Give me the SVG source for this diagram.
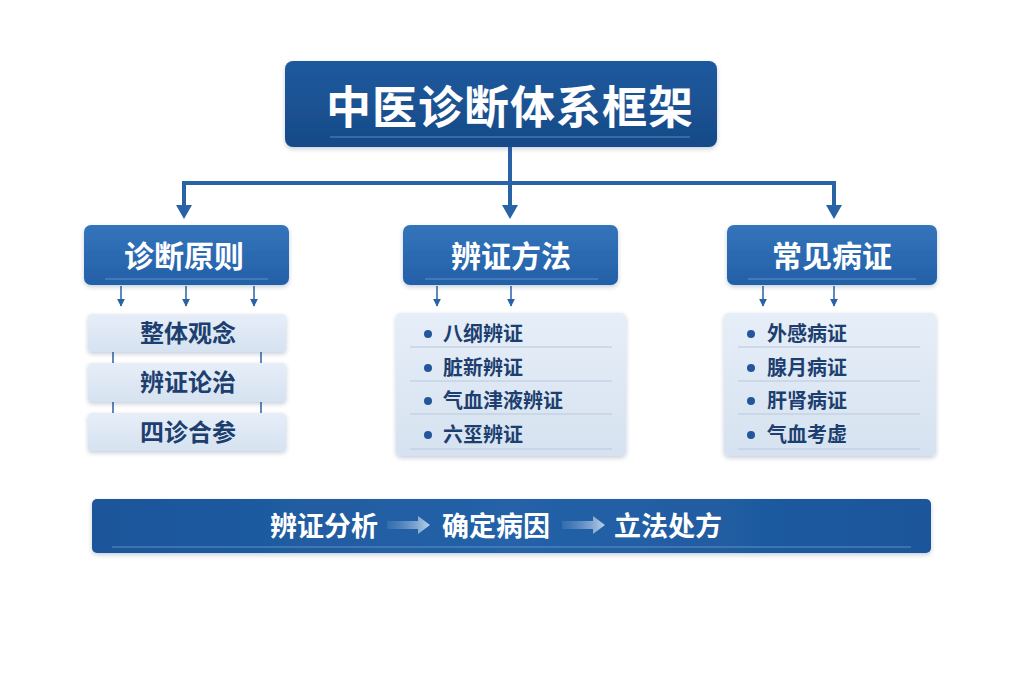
<svg xmlns="http://www.w3.org/2000/svg" width="1024" height="683" viewBox="0 0 1024 683">
<defs>
<linearGradient id="gDark" x1="0" y1="0" x2="0" y2="1"><stop offset="0" stop-color="#1f5a9e"/><stop offset="1" stop-color="#174a87"/></linearGradient>
<linearGradient id="gMid" x1="0" y1="0" x2="0" y2="1"><stop offset="0" stop-color="#3474bb"/><stop offset="1" stop-color="#2360a8"/></linearGradient>
<linearGradient id="gLight" x1="0" y1="0" x2="0" y2="1"><stop offset="0" stop-color="#e6eef8"/><stop offset="1" stop-color="#d6e2f0"/></linearGradient>
<linearGradient id="gBar" x1="0" y1="0" x2="1" y2="0"><stop offset="0" stop-color="#1b559a"/><stop offset="0.5" stop-color="#2562a8"/><stop offset="1" stop-color="#1b559a"/></linearGradient>
<linearGradient id="gArr" x1="0" y1="0" x2="1" y2="0"><stop offset="0" stop-color="#4f82bd" stop-opacity="0.4"/><stop offset="1" stop-color="#b9d0ea"/></linearGradient>
<marker id="ah" viewBox="0 0 10 10" refX="9" refY="5" markerWidth="8" markerHeight="8" markerUnits="userSpaceOnUse" orient="auto"><path d="M0,0 L10,5 L0,10 z" fill="#2a62a6"/></marker>
<filter id="sh" x="-10%" y="-10%" width="120%" height="130%"><feDropShadow dx="0" dy="2" stdDeviation="2" flood-color="#1a3a66" flood-opacity="0.25"/></filter>
</defs>
<style>
.t{font-family:"Noto Sans CJK SC","Noto Sans",sans-serif;font-weight:700}
.w{fill:#ffffff}
.d{fill:#1c3f70}
.sep{stroke:#b8c8dc;stroke-width:1}
.hl{stroke:#7fa6d6;stroke-width:1.2;opacity:0.7}
.ln{stroke:#2a62a6;stroke-width:4;fill:none}
.sl{stroke:#2a62a6;stroke-width:1.5;fill:none}
.bl{fill:#23569a}
.cl{stroke:#2a62a6;stroke-width:1.5}
</style>
<rect width="1024" height="683" fill="#ffffff"/>

<g id="connectors">
<path class="ln" d="M510,147 V183 M184,183 H834 M184,181 V206 M510,183 V206 M834,181 V206"/>
<path d="M176,205 L192,205 L184,219 z M502,205 L518,205 L510,219 z M826,205 L842,205 L834,219 z" fill="#2a62a6"/>
<line class="sl" x1="121" y1="286" x2="121" y2="306" marker-end="url(#ah)"/>
<line class="sl" x1="186" y1="286" x2="186" y2="306" marker-end="url(#ah)"/>
<line class="sl" x1="254" y1="286" x2="254" y2="306" marker-end="url(#ah)"/>
<line class="sl" x1="437" y1="286" x2="437" y2="306" marker-end="url(#ah)"/>
<line class="sl" x1="511" y1="286" x2="511" y2="306" marker-end="url(#ah)"/>
<line class="sl" x1="763" y1="286" x2="763" y2="306" marker-end="url(#ah)"/>
<line class="sl" x1="834" y1="286" x2="834" y2="306" marker-end="url(#ah)"/>
<path class="cl" d="M113,352 V363 M261,352 V363 M113,402 V413 M261,402 V413"/>
</g>

<g id="title">
<rect x="285" y="61" width="432" height="86" rx="8" fill="url(#gDark)" filter="url(#sh)"/>
<line class="hl" x1="330" y1="137" x2="690" y2="137"/>
<text class="t w" x="510" y="124" font-size="45" text-anchor="middle" letter-spacing="1">中医诊断体系框架</text>
</g>

<g id="n-principles">
<rect x="84" y="225" width="205" height="60" rx="7" fill="url(#gMid)" filter="url(#sh)"/>
<line class="hl" x1="105" y1="279" x2="268" y2="279"/>
<text class="t w" x="184" y="267" font-size="30" text-anchor="middle">诊断原则</text>
</g>
<g id="n-methods">
<rect x="403" y="225" width="215" height="60" rx="7" fill="url(#gMid)" filter="url(#sh)"/>
<line class="hl" x1="425" y1="279" x2="598" y2="279"/>
<text class="t w" x="511" y="267" font-size="30" text-anchor="middle">辨证方法</text>
</g>
<g id="n-common">
<rect x="727" y="225" width="210" height="60" rx="7" fill="url(#gMid)" filter="url(#sh)"/>
<line class="hl" x1="748" y1="279" x2="916" y2="279"/>
<text class="t w" x="832" y="267" font-size="30" text-anchor="middle">常见病证</text>
</g>

<g id="p1">
<rect x="88" y="314" width="198" height="38" rx="4" fill="url(#gLight)" filter="url(#sh)"/>
<text class="t d" x="188" y="342" font-size="24" text-anchor="middle">整体观念</text>
</g>
<g id="p2">
<rect x="88" y="363" width="198" height="39" rx="4" fill="url(#gLight)" filter="url(#sh)"/>
<text class="t d" x="188" y="391" font-size="24" text-anchor="middle">辨证论治</text>
</g>
<g id="p3">
<rect x="88" y="413" width="198" height="38" rx="4" fill="url(#gLight)" filter="url(#sh)"/>
<text class="t d" x="188" y="441" font-size="24" text-anchor="middle">四诊合参</text>
</g>

<g id="methods-list">
<rect x="396" y="313" width="230" height="143" rx="5" fill="url(#gLight)" filter="url(#sh)"/>
<line class="sep" x1="410" y1="347" x2="612" y2="347"/>
<line class="sep" x1="410" y1="381" x2="612" y2="381"/>
<line class="sep" x1="410" y1="414" x2="612" y2="414"/>
<line class="sep" x1="410" y1="449" x2="612" y2="449"/>
<circle class="bl" cx="428" cy="334" r="4"/>
<circle class="bl" cx="428" cy="368" r="4"/>
<circle class="bl" cx="428" cy="401" r="4"/>
<circle class="bl" cx="428" cy="435" r="4"/>
<text class="t d" x="443" y="341" font-size="20">八纲辨证</text>
<text class="t d" x="443" y="375" font-size="20">脏新辨证</text>
<text class="t d" x="443" y="408" font-size="20">气血津液辨证</text>
<text class="t d" x="443" y="442" font-size="20">六坙辨证</text>
</g>

<g id="common-list">
<rect x="724" y="313" width="212" height="143" rx="5" fill="url(#gLight)" filter="url(#sh)"/>
<line class="sep" x1="738" y1="347" x2="920" y2="347"/>
<line class="sep" x1="738" y1="381" x2="920" y2="381"/>
<line class="sep" x1="738" y1="414" x2="920" y2="414"/>
<line class="sep" x1="738" y1="449" x2="920" y2="449"/>
<circle class="bl" cx="751" cy="334" r="4"/>
<circle class="bl" cx="751" cy="368" r="4"/>
<circle class="bl" cx="751" cy="401" r="4"/>
<circle class="bl" cx="751" cy="435" r="4"/>
<text class="t d" x="767" y="341" font-size="20">外感病证</text>
<text class="t d" x="767" y="375" font-size="20">腺月病证</text>
<text class="t d" x="767" y="408" font-size="20">肝肾病证</text>
<text class="t d" x="767" y="442" font-size="20">气血考虚</text>
</g>

<g id="flow">
<rect x="92" y="499" width="839" height="54" rx="5" fill="url(#gBar)" filter="url(#sh)"/>
<line class="hl" x1="112" y1="547" x2="911" y2="547"/>
<text class="t w" x="270" y="536" font-size="27">辨证分析</text>
<path d="M387,521 H418 V516 L430,525 L418,534 V529 H387 z" fill="url(#gArr)"/>
<text class="t w" x="442" y="536" font-size="27">确定病因</text>
<path d="M562,521 H593 V516 L605,525 L593,534 V529 H562 z" fill="url(#gArr)"/>
<text class="t w" x="614" y="536" font-size="27">立法处方</text>
</g>
</svg>
